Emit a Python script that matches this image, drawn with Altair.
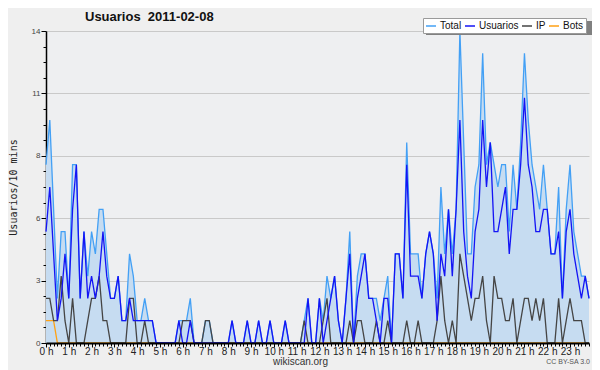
import json
import altair as alt
import pandas as pd

# ---- data (10-minute slots, 0 h .. 23 h 50) ----
TOTAL = [
    8, 10, 6, 2, 5, 5, 2, 8, 8, 2,
    5, 3, 5, 4, 6, 6, 4, 2, 2, 3,
    1, 1, 4, 3, 1, 1, 2, 1, 1, 0,
    0, 0, 0, 0, 0, 1, 1, 1, 2, 0,
    0, 0, 1, 1, 0, 0, 0, 0, 0, 1,
    0, 0, 0, 1, 0, 0, 1, 0, 0, 1,
    0, 0, 0, 1, 0, 0, 0, 0, 1, 2,
    0, 0, 2, 1, 3, 2, 3, 1, 0, 2,
    5, 0, 3, 4, 4, 2, 2, 2, 1, 2,
    3, 0, 4, 4, 2, 9, 4, 4, 4, 2,
    4, 5, 4, 2, 7, 4, 6, 4, 6, 14,
    9, 4, 4, 7, 8, 13, 8, 9, 8, 7,
    8, 8, 5, 8, 6, 9, 13, 10, 8, 7,
    6, 8, 6, 4, 4, 7, 2, 6, 8, 5,
    4, 3, 3, 2,
]
USUARIOS = [
    5, 7, 4, 1, 2, 4, 2, 6, 8, 2,
    5, 2, 3, 2, 3, 5, 3, 2, 2, 3,
    1, 1, 2, 1, 1, 1, 1, 1, 1, 0,
    0, 0, 0, 0, 0, 1, 0, 0, 1, 0,
    0, 0, 0, 0, 0, 0, 0, 0, 0, 1,
    0, 0, 0, 1, 0, 0, 1, 0, 0, 1,
    0, 0, 0, 1, 0, 0, 0, 0, 0, 2,
    0, 0, 2, 0, 1, 2, 3, 1, 0, 2,
    4, 0, 2, 3, 4, 2, 2, 1, 0, 2,
    2, 0, 4, 4, 2, 8, 3, 3, 3, 2,
    4, 5, 4, 1, 4, 3, 6, 3, 6, 10,
    5, 3, 2, 5, 6, 10, 7, 9, 5, 5,
    6, 7, 4, 6, 6, 8, 11, 8, 7, 5,
    5, 6, 6, 4, 4, 5, 2, 5, 6, 4,
    3, 2, 3, 2,
]
IP = [
    2, 2, 1, 1, 3, 1, 0, 2, 0, 0,
    0, 1, 2, 2, 3, 1, 1, 0, 0, 0,
    0, 0, 2, 2, 0, 0, 1, 0, 0, 0,
    0, 0, 0, 0, 0, 0, 1, 1, 1, 0,
    0, 0, 1, 1, 0, 0, 0, 0, 0, 0,
    0, 0, 0, 0, 0, 0, 0, 0, 0, 0,
    0, 0, 0, 0, 0, 0, 0, 0, 1, 0,
    0, 0, 0, 1, 2, 0, 0, 0, 0, 0,
    1, 0, 1, 1, 0, 0, 0, 1, 0, 0,
    1, 0, 0, 0, 0, 1, 0, 0, 1, 0,
    0, 0, 0, 1, 3, 1, 0, 1, 0, 4,
    3, 2, 1, 2, 2, 3, 1, 0, 3, 2,
    2, 1, 1, 2, 0, 1, 2, 2, 1, 2,
    1, 2, 0, 0, 0, 2, 0, 1, 2, 1,
    1, 1, 0, 0,
]
BOTS = [
    1, 1, 1, 0, 0, 0, 0, 0, 0, 0,
    0, 0, 0, 0, 0, 0, 0, 0, 0, 0,
    0, 0, 0, 0, 0, 0, 0, 0, 0, 0,
    0, 0, 0, 0, 0, 0, 0, 0, 0, 0,
    0, 0, 0, 0, 0, 0, 0, 0, 0, 0,
    0, 0, 0, 0, 0, 0, 0, 0, 0, 0,
    0, 0, 0, 0, 0, 0, 0, 0, 0, 0,
    0, 0, 0, 0, 0, 0, 0, 0, 0, 0,
    0, 0, 0, 0, 0, 0, 0, 0, 0, 0,
    0, 0, 0, 0, 0, 0, 0, 0, 0, 0,
    0, 0, 0, 0, 0, 0, 0, 0, 0, 0,
    0, 0, 0, 0, 0, 0, 0, 0, 0, 0,
    0, 0, 0, 0, 0, 0, 0, 0, 0, 0,
    0, 0, 0, 0, 0, 0, 0, 0, 0, 0,
    0, 0, 0, 0,
]
SERIES = ["Total", "Usuarios", "IP", "Bots"]
COLORS = ["#43a0f5", "#1414f5", "#454545", "#ffa114"]
HOUR_LABELS = ["0 h", "1 h", "2 h", "3 h", "4 h", "5 h", "6 h", "7 h", "8 h",
               "9 h", "10 h", "11 h", "12 h", "13 h", "14 h", "15 h", "16 h",
               "17 h", "18 h", "19 h", "20 h", "21 h", "22 h", "23 h"]
Y_MAJOR = [0, 2.8, 5.6, 8.4, 11.2, 14]
Y_MAJOR_LABELS = ["0", "3", "6", "8", "11", "14"]
Y_MINOR = [0.7, 1.4, 2.1, 3.5, 4.2, 4.9, 6.3, 7.0, 7.7, 9.1, 9.8, 10.5, 11.9, 12.6, 13.3]
TITLE = "Usuarios\u00a0\u00a02011-02-08"
Y_TITLE = "Usuarios/10 mins"
X_TITLE = "wikiscan.org"
LICENSE = "CC BY-SA 3.0"

SLOTS = list(range(len(TOTAL)))

rows = []
for name, vals in [("Bots", BOTS), ("Total", TOTAL), ("IP", IP), ("Usuarios", USUARIOS)]:
    for i, v in zip(SLOTS, vals):
        rows.append({"slot": i, "value": v, "serie": name})
df_lines = pd.DataFrame(rows)
df_total = pd.DataFrame({"slot": SLOTS, "value": TOTAL})

maj = json.dumps(Y_MAJOR)
y_test = f"indexof({maj}, datum.value) >= 0"

x_axis = alt.Axis(
    values=SLOTS,
    labelExpr=f"datum.value % 6 == 0 ? {json.dumps(HOUR_LABELS)}[datum.value / 6] : ''",
    tickSize={"condition": {"test": "datum.value % 6 == 0", "value": 4}, "value": 3},
    tickColor="#000000", tickWidth=1,
    domainColor="#000000", domainWidth=2,
    labelFont="Liberation Sans", labelFontSize=10, labelColor="#222222",
    labelPadding=-1, labelOverlap=False, labelFlush=False, labelBound=False,
    grid=False, zindex=1,
    title=X_TITLE, titleX=254, titleY=18, titleFont="Liberation Sans",
    titleFontSize=10, titleFontWeight="normal", titleColor="#333333",
    titleBaseline="middle", titleAlign="center",
)
y_axis = alt.Axis(
    values=Y_MAJOR + Y_MINOR,
    labelExpr=f"{y_test} ? {json.dumps(Y_MAJOR_LABELS)}[indexof({maj}, datum.value)] : ''",
    tickSize={"condition": {"test": y_test, "value": 5}, "value": 3},
    gridOpacity={"condition": {"test": y_test, "value": 1}, "value": 0},
    gridColor="#c9c9c9", gridWidth=1,
    tickColor="#000000", domainColor="#000000", domainWidth=1.5,
    labelFont="Liberation Sans", labelFontSize=8, labelColor="#444444",
    labelPadding=1, labelOverlap=False,
    title=Y_TITLE, titleX=-33, titleY=156, titleAngle=270, titleFont="DejaVu Sans Mono",
    titleFontSize=10, titleFontWeight="normal", titleColor="#222222",
    titleAlign="center", titleBaseline="middle",
)

X = alt.X("slot:Q", scale=alt.Scale(domain=[0, 143], nice=False, zero=False), axis=x_axis)
Y = alt.Y("value:Q", scale=alt.Scale(domain=[0, 14], nice=False), axis=y_axis)

area = alt.Chart(df_total).mark_area(color="#c6dcf1", opacity=1).encode(x=X, y=Y)

lines = alt.Chart(df_lines).mark_line(strokeWidth=1.3).encode(
    x=X, y=Y,
    color=alt.Color(
        "serie:N",
        scale=alt.Scale(domain=SERIES, range=COLORS),
        legend=alt.Legend(
            title=None, orient="none", legendX=377, legendY=-13,
            direction="horizontal", gridAlign="none", symbolType="stroke",
            symbolSize=100, symbolStrokeWidth=1.5, labelFont="Liberation Sans",
            labelFontSize=10, labelColor="#111111", fillColor="#ffffff",
            strokeColor="#9a9a9a", padding=2, columnPadding=0, labelOffset=3,
        ),
    ),
)

shadow = alt.Chart(pd.DataFrame({"k": [0]})).mark_rect(color="#808080").encode(
    x=alt.value(380), x2=alt.value(546), y=alt.value(-10), y2=alt.value(4)
)

title = alt.Chart(pd.DataFrame({"t": [TITLE]})).mark_text(
    align="left", baseline="alphabetic", font="Liberation Sans", fontSize=13,
    fontWeight="bold", color="#111111"
).encode(x=alt.value(39), y=alt.value(-10), text="t:N")

lic = alt.Chart(pd.DataFrame({"t": [LICENSE]})).mark_text(
    align="right", baseline="middle", font="Liberation Sans", fontSize=7,
    color="#555555"
).encode(x=alt.value(544), y=alt.value(19 + 312), text="t:N")

chart = alt.layer(area, lines, shadow, title, lic).properties(
    width=543, height=312,
    padding={"left": 38, "top": 23, "right": 3, "bottom": 27},
    autosize=alt.AutoSizeParams(type="none"),
    background="#efefef",
).configure_view(stroke=None, fill="#eeeff1")

chart.save("out.html", embed_options={"renderer": "svg", "actions": False})
